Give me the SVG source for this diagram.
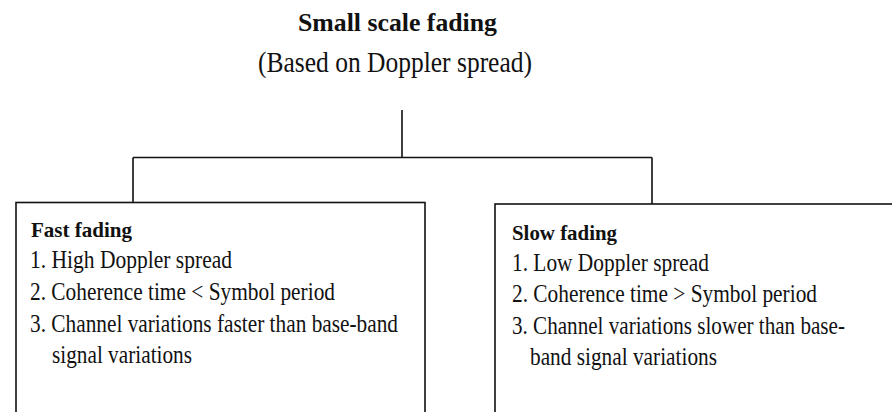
<svg xmlns="http://www.w3.org/2000/svg" width="892" height="412" viewBox="0 0 892 412">
<style>
.t{font-family:"Liberation Serif","Times New Roman",serif;fill:#111;}
.b{font-weight:bold;}
.r{font-size:25.5px;}
.box{fill:#fff;stroke:#111;stroke-width:1.6;}
.ln{fill:none;stroke:#111;stroke-width:1.6;}
</style>
<rect width="892" height="412" fill="#fff"/>
<g id="connectors">
<path class="ln" d="M402 110 V157.5 M133 157.5 H652 M133 157.5 V202.5 M652 157.5 V204"/>
</g>
<g id="root">
<text class="t b" x="298" y="31" font-size="26" textLength="199" lengthAdjust="spacingAndGlyphs">Small scale fading</text>
<text class="t" x="258" y="72" font-size="29" textLength="274" lengthAdjust="spacingAndGlyphs">(Based on Doppler spread)</text>
</g>
<g id="fast">
<rect class="box" x="16" y="202.5" width="409" height="230"/>
<text class="t b" x="31" y="237" font-size="21" textLength="101" lengthAdjust="spacingAndGlyphs">Fast fading</text>
<text class="t r" x="30" y="268" textLength="202" lengthAdjust="spacingAndGlyphs">1. High Doppler spread</text>
<text class="t r" x="30" y="300" textLength="305" lengthAdjust="spacingAndGlyphs">2. Coherence time &lt; Symbol period</text>
<text class="t r" x="30" y="332" textLength="368" lengthAdjust="spacingAndGlyphs">3. Channel variations faster than base-band</text>
<text class="t r" x="52" y="363" textLength="140" lengthAdjust="spacingAndGlyphs">signal variations</text>
</g>
<g id="slow">
<rect class="box" x="495" y="204" width="420" height="230"/>
<text class="t b" x="512" y="240" font-size="21" textLength="105" lengthAdjust="spacingAndGlyphs">Slow fading</text>
<text class="t r" x="512" y="271" textLength="197" lengthAdjust="spacingAndGlyphs">1. Low Doppler spread</text>
<text class="t r" x="512" y="302" textLength="305" lengthAdjust="spacingAndGlyphs">2. Coherence time &gt; Symbol period</text>
<text class="t r" x="512" y="334" textLength="333" lengthAdjust="spacingAndGlyphs">3. Channel variations slower than base-</text>
<text class="t r" x="530" y="365" textLength="187" lengthAdjust="spacingAndGlyphs">band signal variations</text>
</g>
</svg>
